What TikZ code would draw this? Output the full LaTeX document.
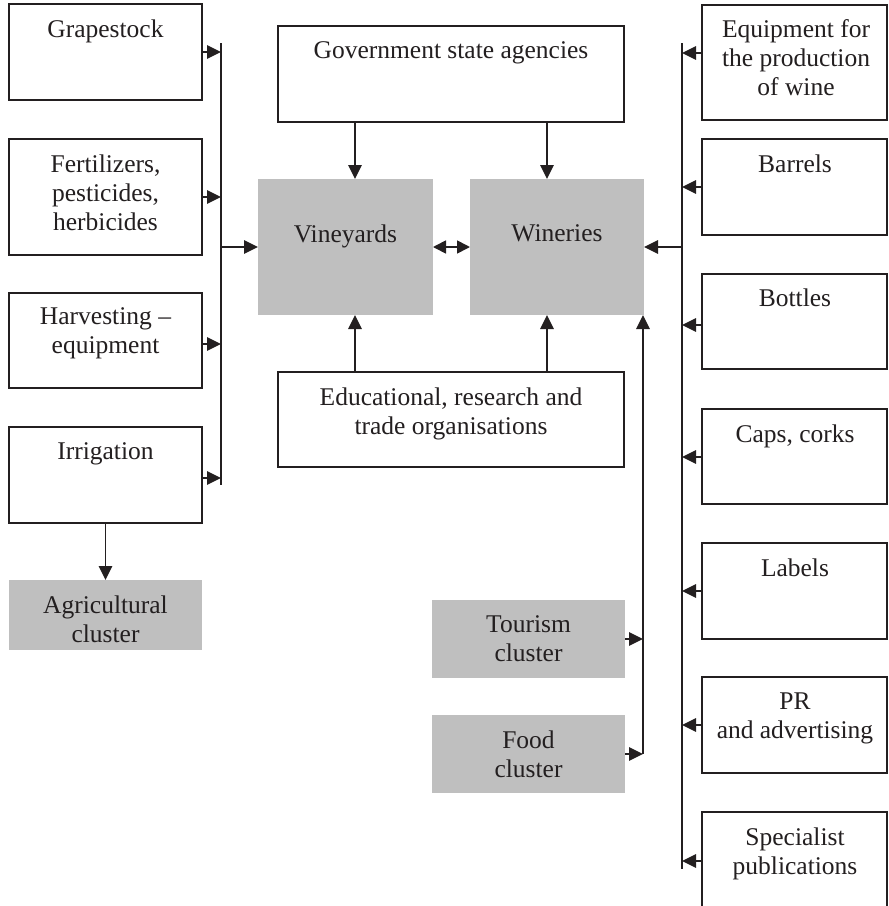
\documentclass[tikz,border=0pt]{standalone}
\usepackage{fontspec}
\setmainfont{Liberation Serif}
\usetikzlibrary{arrows.meta}
\definecolor{boxgrey}{RGB}{191,191,191}
\definecolor{ink}{RGB}{35,31,32}
\begin{document}
\begin{tikzpicture}[x=1pt,y=-1pt,
  wbox/.style={draw=ink,line width=1.7pt,fill=white,anchor=north west,inner sep=0pt,outer sep=0pt},
  gbox/.style={fill=boxgrey,draw=none,anchor=north west,inner sep=0pt,outer sep=0pt},
  txt/.style={anchor=north,inner sep=0pt,align=center,text=ink,font=\fontsize{25.5}{29}\selectfont},
  arr/.style={draw=ink,line width=1.7pt,-{Triangle[length=14pt,width=13.5pt]}},
  dbl/.style={draw=ink,line width=1.7pt,{Triangle[length=13pt,width=13pt]}-{Triangle[length=13pt,width=13pt]}},
  bus/.style={draw=ink,line width=1.7pt}]
\useasboundingbox (0,0) rectangle (889,906);
% left boxes
\node[wbox,minimum width=193pt,minimum height=96pt] (grape) at (9,4) {};
\node[txt] (grapet) at (105.5,19.7) {Grapestock};
\node[wbox,minimum width=193pt,minimum height=116pt] (fert) at (9,139) {};
\node[txt] (fertt) at (105.5,154.7) {Fertilizers,\\pesticides,\\herbicides};
\node[wbox,minimum width=193pt,minimum height=95pt] (harv) at (9,293) {};
\node[txt] (harvt) at (105.5,307.7) {Harvesting –\\equipment};
\node[wbox,minimum width=193pt,minimum height=96pt] (irrig) at (9,427) {};
\node[txt] (irrigt) at (105.5,442.7) {Irrigation};
\node[gbox,minimum width=193pt,minimum height=70pt] (agri) at (9,580) {};
\node[txt] (agrit) at (105.5,595.7) {Agricultural\\cluster};
% centre
\node[wbox,minimum width=346pt,minimum height=96pt] (gov) at (278,26) {};
\node[txt] (govt) at (451,41.7) {Government state agencies};
\node[gbox,minimum width=175pt,minimum height=136pt] (vine) at (258,179) {};
\node[txt] (vinet) at (345.5,224.7) {Vineyards};
\node[gbox,minimum width=174pt,minimum height=136pt] (wine) at (470,179) {};
\node[txt] (winet) at (557,224.7) {Wineries};
\node[wbox,minimum width=346pt,minimum height=95pt] (edu) at (278,372) {};
\node[txt] (edut) at (451,387.7) {Educational, research and\\trade organisations};
\node[gbox,minimum width=193pt,minimum height=78pt] (tour) at (432,600) {};
\node[txt] (tourt) at (528.5,615.7) {Tourism\\cluster};
\node[gbox,minimum width=193pt,minimum height=78pt] (food) at (432,715) {};
\node[txt] (foodt) at (528.5,730.7) {Food\\cluster};
% right boxes
\node[wbox,minimum width=185pt,minimum height=115pt] (equip) at (702,5) {};
\node[txt] (equipt) at (796,19.7) {Equipment for\\the production\\of wine};
\node[wbox,minimum width=185pt,minimum height=96pt] (barr) at (702,139) {};
\node[txt] (barrt) at (795,154.7) {Barrels};
\node[wbox,minimum width=185pt,minimum height=95pt] (bott) at (702,274) {};
\node[txt] (bottt) at (795,288.7) {Bottles};
\node[wbox,minimum width=185pt,minimum height=95pt] (caps) at (702,409) {};
\node[txt] (capst) at (795,424.7) {Caps, corks};
\node[wbox,minimum width=185pt,minimum height=96pt] (lab) at (702,543) {};
\node[txt] (labt) at (795,558.7) {Labels};
\node[wbox,minimum width=185pt,minimum height=96pt] (pr) at (702,677) {};
\node[txt] (prt) at (795,692.7) {PR\\and advertising};
\node[wbox,minimum width=185pt,minimum height=100pt] (spec) at (702,812) {};
\node[txt] (spect) at (795,827.7) {Specialist\\publications};
% buses
\coordinate (lbT) at (221,43);
\coordinate (lbB) at (221,485);
\coordinate (rbT) at (682,43);
\coordinate (rbB) at (682,869);
\coordinate (tbB) at (643,754);
\draw[bus] (lbT) -- (lbB);
\draw[bus] (rbT) -- (rbB);
% left arrows
\draw[arr] (grape.east) -- (grape.east -| lbT);
\draw[arr] (fert.east) -- (fert.east -| lbT);
\draw[arr] (harv.east |- 0,344) -- (lbT |- 0,344);
\draw[arr] (irrig.east |- 0,478) -- (lbT |- 0,478);
\draw[arr] (lbT |- vine.west) -- (vine.west);
\draw[arr] (irrig.south) -- (agri.north);
% right arrows
\draw[arr] (equip.west |- 0,53) -- (rbT |- 0,53);
\draw[arr] (barr.west) -- (barr.west -| rbT);
\draw[arr] (bott.west |- 0,325) -- (rbT |- 0,325);
\draw[arr] (caps.west |- 0,457) -- (rbT |- 0,457);
\draw[arr] (lab.west |- 0,591) -- (rbT |- 0,591);
\draw[arr] (pr.west |- 0,725) -- (rbT |- 0,725);
\draw[arr] (spec.west |- 0,861) -- (rbT |- 0,861);
\draw[arr] (rbT |- wine.east) -- (wine.east);
% centre arrows
\draw[dbl] (vine.east) -- (wine.west);
\draw[arr] (gov.south -| 355,0) -- (vine.north -| 355,0);
\draw[arr] (gov.south -| 547,0) -- (wine.north -| 547,0);
\draw[arr] (edu.north -| 355,0) -- (vine.south -| 355,0);
\draw[arr] (edu.north -| 547,0) -- (wine.south -| 547,0);
% tourism / food bus
\draw[arr] (tour.east) -- (tour.east -| tbB);
\draw[arr] (food.east |- tbB) -- (tbB);
\draw[arr] (tbB) -- (tbB |- wine.south);
\end{tikzpicture}
\end{document}
